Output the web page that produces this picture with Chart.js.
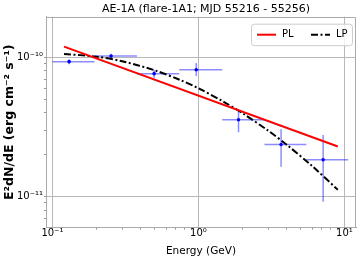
<!DOCTYPE html>
<html>
<head>
<meta charset="utf-8">
<script src="https://cdn.jsdelivr.net/npm/chart.js@4.4.0/dist/chart.umd.min.js"></script>
<style>
  html, body { margin: 0; padding: 0; background: #fff; overflow: hidden; }
</style>
</head>
<body>
<canvas id="sed" width="360" height="263"></canvas>
<script>
// Flux points
const energy = [0.130, 0.252, 0.497, 0.965, 1.88, 3.68, 7.14];
const binLo = [0.1, 0.194, 0.379, 0.738, 1.454, 2.83, 5.48];
const binHi = [0.194, 0.379, 0.738, 1.454, 2.83, 5.48, 10.6];
const flux = [9.33e-11, 1.025e-10, 7.65e-11, 8.17e-11, 3.57e-11, 2.37e-11, 1.84e-11];
const fluxLo = [8.95e-11, 9.85e-11, 7.13e-11, 7.36e-11, 2.90e-11, 1.64e-11, 9.2e-12];
const fluxHi = [9.70e-11, 1.065e-10, 8.13e-11, 9.13e-11, 4.15e-11, 3.05e-11, 2.77e-11];

// Model curves
const plE = [0.12, 9.0];
const plF = [1.196e-10, 2.29e-11];
const lpE = [0.12, 0.2, 0.3, 0.5, 0.75, 1, 1.5, 2, 3, 4, 6, 9];
const lpF = [1.06e-10, 1.014e-10, 9.40e-11, 8.09e-11, 6.89e-11, 6.0e-11, 4.78e-11, 3.98e-11, 2.98e-11, 2.37e-11, 1.66e-11, 1.12e-11];

// Axes
const xTicks = [0.1, 0.2, 0.3, 0.4, 0.5, 0.6, 0.7, 0.8, 0.9, 1, 2, 3, 4, 5, 6, 7, 8, 9, 10];
const yTicks = [7e-12, 8e-12, 9e-12, 1e-11, 2e-11, 3e-11, 4e-11, 5e-11, 6e-11, 7e-11, 8e-11, 9e-11, 1e-10];
const xMin = 0.0903, xMax = 11.99;
const yMin = 5.98e-12, yMax = 1.963e-10;

const sup = { '-': '\u207B', '0': '\u2070', '1': '\u00B9', '2': '\u00B2', '3': '\u00B3',
  '4': '\u2074', '5': '\u2075', '6': '\u2076', '7': '\u2077', '8': '\u2078', '9': '\u2079' };

function isMajor(v) {
  const e = Math.log10(v);
  return Math.abs(e - Math.round(e)) < 1e-6;
}

function powLabel(v) {
  if (!isMajor(v)) return '';
  return '10' + String(Math.round(Math.log10(v))).split('').map(c => sup[c]).join('');
}

Chart.defaults.font.family = '"DejaVu Sans", sans-serif';
Chart.defaults.color = '#000';

// error bars, drawn under the lines
const errorBars = {
  id: 'errorBars',
  beforeDatasetsDraw(chart) {
    const { ctx, chartArea: a, scales: { x, y } } = chart;
    ctx.save();
    ctx.beginPath();
    ctx.rect(a.left, a.top, a.width, a.height);
    ctx.clip();
    ctx.strokeStyle = 'rgba(0, 0, 255, 0.45)';
    ctx.lineWidth = 1.5;
    energy.forEach((e, i) => {
      const px = x.getPixelForValue(e);
      const py = y.getPixelForValue(flux[i]);
      ctx.beginPath();
      ctx.moveTo(x.getPixelForValue(binLo[i]), py);
      ctx.lineTo(x.getPixelForValue(binHi[i]), py);
      ctx.moveTo(px, y.getPixelForValue(fluxLo[i]));
      ctx.lineTo(px, y.getPixelForValue(fluxHi[i]));
      ctx.stroke();
    });
    ctx.restore();
  }
};

// top/right spines + legend box
const frame = {
  id: 'frame',
  afterLayout(chart) {
    // title sits a little right of the axes centre in the original
    if (chart.titleBlock) {
      chart.titleBlock.left += 5;
      chart.titleBlock.right += 5;
    }
  },
  afterDraw(chart) {
    const { ctx, chartArea: a } = chart;
    ctx.save();
    ctx.strokeStyle = '#aaaaaa';
    ctx.lineWidth = 1;
    ctx.beginPath();
    ctx.moveTo(Math.round(a.left) + 0.5, Math.round(a.top) + 0.5);
    ctx.lineTo(Math.round(a.right) - 0.5, Math.round(a.top) + 0.5);
    ctx.lineTo(Math.round(a.right) - 0.5, Math.round(a.bottom));
    ctx.stroke();

    const bx = a.right - 104.5, by = a.top + 7.5;
    ctx.beginPath();
    ctx.roundRect(bx, by, 101, 21.5, 3);
    ctx.fillStyle = 'rgba(255, 255, 255, 0.8)';
    ctx.fill();
    ctx.strokeStyle = '#cccccc';
    ctx.stroke();

    const ly = by + 10.5;
    const items = chart.data.datasets.filter(d => d.label);
    let lx = bx + 5.5;
    ctx.font = '10px "DejaVu Sans", sans-serif';
    ctx.textBaseline = 'middle';
    items.forEach(d => {
      ctx.beginPath();
      ctx.setLineDash(d.borderDash || []);
      ctx.strokeStyle = d.borderColor;
      ctx.lineWidth = d.borderWidth;
      ctx.moveTo(lx, ly);
      ctx.lineTo(lx + 19, ly);
      ctx.stroke();
      ctx.setLineDash([]);
      ctx.fillStyle = '#000';
      ctx.fillText(d.label, lx + 25, ly);
      lx += 54;
    });
    ctx.restore();
  }
};

new Chart(document.getElementById('sed'), {
  type: 'line',
  data: {
    datasets: [
      {
        label: 'PL',
        data: plE.map((e, i) => ({ x: e, y: plF[i] })),
        borderColor: '#ff0000',
        borderWidth: 2,
        pointRadius: 0,
        fill: false
      },
      {
        label: 'LP',
        data: lpE.map((e, i) => ({ x: e, y: lpF[i] })),
        borderColor: '#000000',
        borderWidth: 2,
        borderDash: [7, 2.5, 2, 2.5],
        pointRadius: 0,
        tension: 0.3,
        fill: false
      },
      {
        data: energy.map((e, i) => ({ x: e, y: flux[i] })),
        showLine: false,
        pointRadius: 1.8,
        pointBackgroundColor: '#0000ff',
        pointBorderWidth: 0
      }
    ]
  },
  options: {
    responsive: false,
    animation: false,
    devicePixelRatio: 1,
    layout: { padding: { right: 1.3 } },
    plugins: {
      legend: { display: false },
      tooltip: { enabled: false },
      title: {
        display: true,
        text: 'AE-1A (flare-1A1; MJD 55216 - 55256)',
        fullSize: false,
        font: { size: 11, weight: 'normal' },
        padding: { top: 3, bottom: 0.5 }
      }
    },
    scales: {
      x: {
        type: 'logarithmic',
        min: xMin,
        max: xMax,
        afterBuildTicks: s => { s.ticks = xTicks.map(v => ({ value: v })); },
        afterFit: s => { s.height = 35.3; },
        ticks: { callback: v => powLabel(v), font: { size: 10 }, padding: -2, maxRotation: 0, autoSkip: false },
        grid: {
          color: c => (c.tick && isMajor(c.tick.value)) ? '#b8b8b8' : 'rgba(0,0,0,0)',
          tickColor: '#999999',
          tickLength: 2
        },
        border: { color: '#aaaaaa' },
        title: { display: true, text: 'Energy (GeV)', font: { size: 10.5 }, padding: { top: 0, bottom: 5 } }
      },
      y: {
        type: 'logarithmic',
        min: yMin,
        max: yMax,
        afterBuildTicks: s => { s.ticks = yTicks.map(v => ({ value: v })); },
        afterFit: s => { s.width = 46; },
        ticks: { callback: v => powLabel(v), font: { size: 10 }, padding: 1, autoSkip: false },
        grid: {
          color: c => (c.tick && isMajor(c.tick.value)) ? '#b8b8b8' : 'rgba(0,0,0,0)',
          tickColor: '#999999',
          tickLength: 2
        },
        border: { color: '#aaaaaa' },
        title: { display: true, text: 'E\u00B2dN/dE (erg cm\u207B\u00B2 s\u207B\u00B9)', font: { size: 12.5, weight: 'bold' }, padding: { top: 2.5, bottom: 0 } }
      }
    }
  },
  plugins: [errorBars, frame]
});
</script>
</body>
</html>
